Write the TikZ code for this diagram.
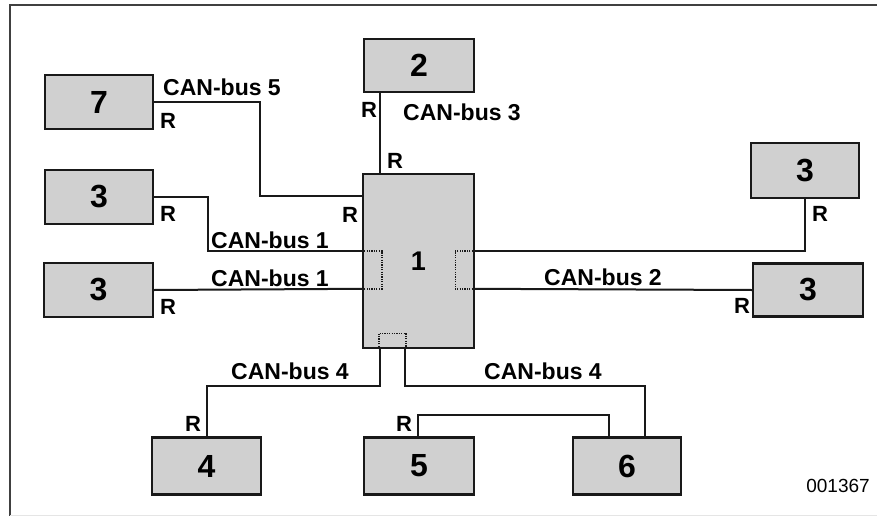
\documentclass[tikz,border=0pt]{standalone}
\usepackage{fontspec}
\setmainfont{Liberation Sans}
\usetikzlibrary{calc}
\definecolor{boxgray}{RGB}{208,208,208}
\definecolor{ink}{RGB}{25,25,25}
\begin{document}
\begin{tikzpicture}[x=1pt,y=-1pt,
  box/.style={draw=ink,line width=2.4pt,fill=boxgray,inner sep=0pt,
    font=\fontsize{32}{32}\selectfont\bfseries},
  bus/.style={draw=ink,line width=2pt},
  dotbox/.style={draw=ink,line width=1.4pt,dash pattern=on 1.2pt off 1.2pt},
  lbl/.style={inner sep=0pt,font=\fontsize{23}{23}\selectfont\bfseries},
  rlbl/.style={inner sep=0pt,font=\fontsize{22}{22}\selectfont\bfseries}]
\useasboundingbox (0,0) rectangle (877,516);
% frame
\draw[line width=2.6pt,draw=black!75] (877,5) -- (10,5) -- (10,516);
\draw[line width=1pt,draw=black!10] (10,515) -- (877,515);
% boxes
\node[box,minimum width=108pt,minimum height=54pt] (b7)  at (99,102) {7};
\node[box,minimum width=108pt,minimum height=54pt] (b3a) at (99,197) {3};
\node[box,minimum width=109pt,minimum height=54pt] (b3b) at (98.5,290) {3};
\node[box,minimum width=110pt,minimum height=53pt] (b2)  at (419,65.5) {2};
\node[box,minimum width=111pt,minimum height=174pt,font=\fontsize{27}{27}\selectfont\bfseries] (b1) at (418.5,261) {1};
\node[box,minimum width=108pt,minimum height=55pt] (b3c) at (805,170.5) {3};
\node[box,minimum width=110pt,minimum height=53pt] (b3d) at (808,290) {3};
\node[box,minimum width=109pt,minimum height=57pt] (b4)  at (206.5,466) {4};
\node[box,minimum width=110pt,minimum height=57pt] (b5)  at (419,466) {5};
\node[box,minimum width=108pt,minimum height=57pt] (b6)  at (627,466) {6};
% ports on unit 1
\coordinate (L1) at ($(b1.north west)+(0,78)$);
\coordinate (L2) at ($(b1.north west)+(0,116)$);
\coordinate (R1) at ($(b1.north east)+(0,78)$);
\coordinate (R2) at ($(b1.north east)+(0,116)$);
\coordinate (T1) at ($(b1.north west)+(18,0)$);
\coordinate (W5) at ($(b1.north west)+(0,23)$);
\coordinate (B1) at ($(b1.south west)+(18,0)$);
\coordinate (B2) at ($(b1.south west)+(43,0)$);
% buses
\draw[bus] (b7.east) -- ++(106,0) |- (W5);
\draw[bus] (b2.south -| T1) -- (T1);
\draw[bus] (b3a.east) -- ++(54,0) |- (L1);
\draw[bus] (b3b.east) -- (L2);
\draw[bus] (R1) -| (b3c.south);
\draw[bus] (R2) -- (b3d.west);
\draw[bus] (B1) -- ++(0,37) -| (b4.north);
\draw[bus] (B2) -- ++(0,37) -| ($(b6.north west)+(73,0)$);
\draw[bus] ($(b5.north west)+(55,0)$) -- ++(0,-21) -| ($(b6.north west)+(37,0)$);
% dotted interface boxes
\draw[dotbox] (L1) -| ($(L2)+(20,0)$) -- (L2);
\draw[dotbox] (R1) -| ($(R2)+(-20,0)$) -- (R2);
\draw[dotbox] ($(b1.south west)+(17,0)$) |- ($(b1.south west)+(44,-16)$) -- ($(b1.south west)+(44,0)$);
% bus labels
\node[lbl] (c5) at (222,87) {CAN-bus 5};
\node[lbl] (c3) at (462,112) {CAN-bus 3};
\node[lbl] (c1a) at (270,240) {CAN-bus 1};
\node[lbl] (c1b) at (270,278) {CAN-bus 1};
\node[lbl] (c2) at (603,277) {CAN-bus 2};
\node[lbl] (c4a) at (290,371.5) {CAN-bus 4};
\node[lbl] (c4b) at (543,371.5) {CAN-bus 4};
% terminator labels
\node[rlbl] (r1) at (168,121) {R};
\node[rlbl] (r2) at (369,110) {R};
\node[rlbl] (r3) at (395,161) {R};
\node[rlbl] (r4) at (350,215) {R};
\node[rlbl] (r5) at (168,214) {R};
\node[rlbl] (r6) at (168,307) {R};
\node[rlbl] (r7) at (820,214) {R};
\node[rlbl] (r8) at (742,306) {R};
\node[rlbl] (r9) at (193,424) {R};
\node[rlbl] (r10) at (404,424) {R};
% figure number
\node[inner sep=0pt,font=\fontsize{19}{19}\selectfont] (fig) at (838,486) {001367};
\end{tikzpicture}
\end{document}
